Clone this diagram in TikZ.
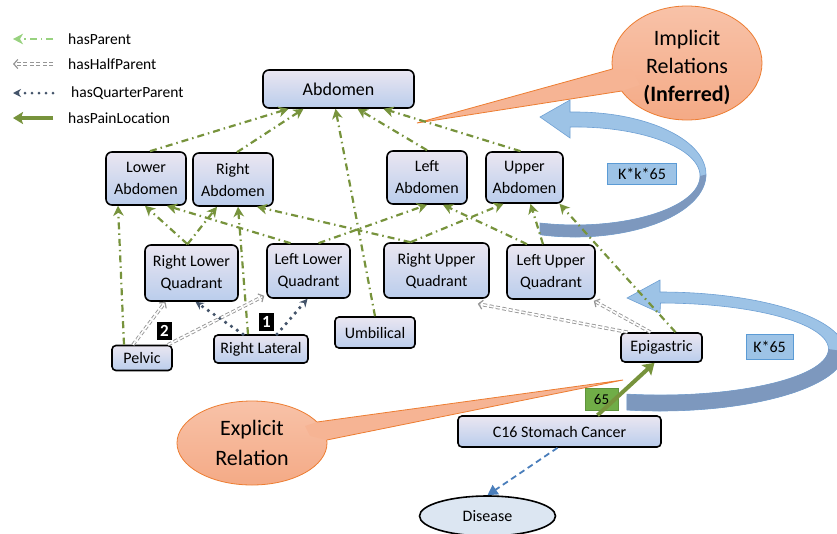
\documentclass[tikz,border=0pt]{standalone}
\usepackage{fontspec}
\setmainfont{Carlito}
\usetikzlibrary{arrows.meta,shapes.geometric,calc}

\definecolor{grn}{RGB}{119,147,60}
\definecolor{hgray}{RGB}{150,150,150}
\definecolor{qblue}{RGB}{68,84,106}
\definecolor{ntop}{RGB}{234,230,241}
\definecolor{nbot}{RGB}{186,205,236}
\definecolor{orfill}{RGB}{244,170,134}
\definecolor{ortop}{RGB}{248,194,168}
\definecolor{orline}{RGB}{237,125,49}
\definecolor{blight}{RGB}{157,195,230}
\definecolor{bline}{RGB}{110,160,212}
\definecolor{bdark}{RGB}{125,152,190}
\definecolor{dblue}{RGB}{74,126,187}
\definecolor{disfill}{RGB}{220,230,242}
\definecolor{kfill}{RGB}{157,195,230}
\definecolor{kline}{RGB}{91,155,213}
\definecolor{gbox}{RGB}{112,173,71}

\tikzset{
  box/.style={draw=black, line width=1.6pt, rounded corners=6pt, top color=ntop, bottom color=nbot,
    align=center, inner sep=0pt, font=\fontsize{16}{22}\selectfont},
  parent/.style={draw=grn, line width=2.2pt, dash pattern=on 7pt off 4pt on 1.5pt off 4pt,
    -{Stealth[length=10pt,width=10.5pt,inset=3pt]}},
  halfp/.style={draw=hgray, line width=0.9pt, double=white, double distance=1.6pt,
    dash pattern=on 4pt off 2.5pt, -{Straight Barb[length=4pt,width=9pt,line width=1.2pt]}},
  quarterp/.style={draw=qblue, line width=3.6pt, dash pattern=on 0pt off 7pt, line cap=round,
    -{Stealth[length=8pt,width=8pt]}},
  painloc/.style={draw=grn, line width=4pt, -{Stealth[length=11pt,width=14pt,inset=2pt]}},
  disarrow/.style={draw=dblue, line width=1.8pt, dash pattern=on 6pt off 4pt, -{Triangle[length=10pt,width=11pt]}},
  legtext/.style={anchor=west, font=\fontsize{15.5}{18}\selectfont, inner sep=0pt},
  kbox/.style={draw=kline, line width=0.8pt, fill=kfill, font=\fontsize{16}{19}\selectfont, inner sep=0pt},
  numbox/.style={fill=black, text=white, font=\bfseries\fontsize{17}{18}\selectfont, inner sep=0pt,
    minimum width=15pt, minimum height=18pt},
  callout/.style={draw=orline, line width=0.8pt, top color=ortop, bottom color=orfill},
  calltext/.style={align=center, font=\fontsize{22}{28}\selectfont, inner sep=0pt},
}

\begin{document}
\begin{tikzpicture}[x=1pt,y=1pt]
\useasboundingbox (0,0) rectangle (837,-533);
\fill[white] (0,0) rectangle (837,-533);

% ---------- callouts ----------
\path[callout] (687,-63) ellipse[x radius=75, y radius=57];
\fill[orfill!60!ortop] (612.4,-69) -- (417,-123) -- (621.7,-91) -- (640,-85) -- (632,-70) -- cycle;
\draw[orline, line width=0.8pt] (612.4,-69) -- (417,-123) -- (621.7,-91);
\node[calltext] (impl) at (687,-68) {Implicit\\Relations\\\textbf{(Inferred)}};

\path[callout] (252,-443) ellipse[x radius=75, y radius=42];
\fill[orfill!60!ortop] (317,-422) -- (623,-380) -- (326.8,-440) -- (310,-436) -- (305,-426) -- cycle;
\draw[orline, line width=0.8pt] (317,-422) -- (623,-380) -- (326.8,-440);
\node[calltext, font=\fontsize{22}{30}\selectfont] (expl) at (252,-443) {Explicit\\Relation};

% ---------- blue curved arrows ----------
\filldraw[fill=blight, draw=bline, line width=0.6pt] (540,-117) -- (570,-100) -- (570,-112.05)
  arc[start angle=92.2, end angle=-105.5, x radius=131, y radius=62.5] -- (540,-223)
  arc[start angle=-106.3, end angle=92.3, x radius=125, y radius=49] -- (570,-138) -- cycle;
\fill[bdark] (706,-174.5) arc[start angle=0, end angle=-105.5, x radius=131, y radius=62.5] -- (540,-223)
  arc[start angle=-106.3, end angle=0, x radius=125, y radius=49] -- cycle;

\filldraw[fill=blight, draw=bline, line width=0.6pt] (627,-298) -- (660,-280) -- (660,-292)
  arc[start angle=90, end angle=-100.3, x radius=185, y radius=59.5] -- (627,-394.1)
  arc[start angle=-101.5, end angle=90, x radius=168, y radius=46] -- (660,-313) -- cycle;
\fill[bdark] (845,-351.5) arc[start angle=0, end angle=-100.3, x radius=185, y radius=59.5] -- (627,-394.1)
  arc[start angle=-101.5, end angle=0, x radius=168, y radius=46] -- cycle;

\node[kbox, minimum width=69pt, minimum height=21pt] (kk) at (642,-173.5) {K*k*65};
\node[kbox, minimum width=47pt, minimum height=25pt] (k1) at (769.5,-346.5) {K*65};

% ---------- legend ----------
\coordinate (l1a) at (53,-39);  \coordinate (l1b) at (13,-39);
\coordinate (l2a) at (53,-64);  \coordinate (l2b) at (13,-64);
\coordinate (l3a) at (53,-93);  \coordinate (l3b) at (13,-93);
\coordinate (l4a) at (53,-118); \coordinate (l4b) at (13,-118);
\draw[parent, draw=grn!70!green!60!white] (l1a) -- (l1b);
\draw[halfp] (l2a) -- (l2b);
\draw[quarterp, line width=3pt] (l3a) -- (l3b);
\draw[painloc, -{Stealth[length=10pt,width=12pt,inset=2pt]}] (l4a) -- (l4b);
\node[legtext] (t1) at (68,-39) {hasParent};
\node[legtext] (t2) at (68,-64) {hasHalfParent};
\node[legtext] (t3) at (71,-93) {hasQuarterParent};
\node[legtext] (t4) at (68,-118) {hasPainLocation};

% ---------- nodes ----------
\node[box, minimum width=151pt, minimum height=38pt, font=\fontsize{18}{22}\selectfont] (abd) at (338.5,-89) {Abdomen};
\node[box, minimum width=80pt, minimum height=53pt] (la) at (146,-178.5) {Lower\\Abdomen};
\node[box, minimum width=80pt, minimum height=53pt] (ra) at (233,-179.5) {Right\\Abdomen};
\node[box, minimum width=80pt, minimum height=53pt] (lfa) at (427,-177.5) {Left\\Abdomen};
\node[box, minimum width=77pt, minimum height=51pt] (ua) at (524.5,-177.5) {Upper\\Abdomen};
\node[box, minimum width=93pt, minimum height=56pt] (rlq) at (191.5,-273) {Right Lower\\Quadrant};
\node[box, minimum width=83pt, minimum height=54pt] (llq) at (308.5,-271) {Left Lower\\Quadrant};
\node[box, minimum width=105pt, minimum height=55pt] (ruq) at (436.5,-270.5) {Right Upper\\Quadrant};
\node[box, minimum width=88pt, minimum height=54pt] (luq) at (551,-272) {Left Upper\\Quadrant};
\node[box, minimum width=80pt, minimum height=31pt, rounded corners=4pt] (umb) at (375,-332.5) {Umbilical};
\node[box, minimum width=60pt, minimum height=25pt, rounded corners=4pt] (pel) at (142,-358) {Pelvic};
\node[box, minimum width=94pt, minimum height=28pt, rounded corners=4pt] (rlat) at (261,-349) {Right Lateral};
\node[box, minimum width=81pt, minimum height=29pt, rounded corners=4pt] (epi) at (661.5,-347.5) {Epigastric};
\node[box, minimum width=203pt, minimum height=31pt, rounded corners=4pt] (c16) at (559.5,-431.5) {C16 Stomach Cancer};
\node[ellipse, draw=black, line width=1.6pt, fill=disfill, minimum width=136pt, minimum height=40pt,
  inner sep=0pt, font=\fontsize{16}{19}\selectfont] (dis) at (487.5,-516) {Disease};

% ---------- hasParent ----------
\draw[parent] ([xshift=4pt]la.north) -- ([xshift=-50pt]abd.south);
\draw[parent] ([xshift=4pt]ra.north) -- ([xshift=-35pt]abd.south);
\draw[parent] (umb.north) -- ([xshift=-3pt]abd.south);
\draw[parent] (lfa.north) -- ([xshift=19pt]abd.south);
\draw[parent] ([xshift=-4pt]ua.north) -- ([xshift=45pt]abd.south);

\draw[parent] ([xshift=-18pt]pel.north) -- ([xshift=-28pt]la.south);
\draw[parent] ([xshift=-4pt]rlq.north) -- ([xshift=-1pt]la.south);
\draw[parent] ([xshift=-18pt]llq.north) -- ([xshift=21pt]la.south);

\draw[parent] ([xshift=-4pt]rlq.north) -- ([xshift=-16pt]ra.south);
\draw[parent] ([xshift=-13pt]rlat.north) -- ([xshift=5pt]ra.south);
\draw[parent] ([xshift=-26pt]ruq.north) -- ([xshift=24pt]ra.south);

\draw[parent] ([xshift=10pt]llq.north) -- (lfa.south);
\draw[parent] ([xshift=-24pt]luq.north) -- ([xshift=16pt]lfa.south);

\draw[parent] ([xshift=-26pt]ruq.north) -- ([xshift=-21pt]ua.south);
\draw[parent] ([xshift=-8pt]luq.north) -- ([xshift=6pt]ua.south);
\draw[parent] ([xshift=14pt]epi.north) -- ([xshift=35pt]ua.south);

% ---------- hasHalfParent ----------
\draw[halfp] ([xshift=-9pt]pel.north) -- ([xshift=-26pt]rlq.south);
\draw[halfp] ([xshift=26pt]pel.north) -- ([shift={(-2pt,3pt)}]llq.south west);
\draw[halfp] ([xshift=-34pt]epi.north) -- ([shift={(-12pt,-5pt)}]ruq.south east);
\draw[halfp] ([xshift=-11pt]epi.north) -- ([shift={(-2pt,-1pt)}]luq.south east);

% ---------- hasQuarterParent ----------
\draw[quarterp] ([xshift=-18pt]rlat.north) -- ([xshift=4pt]rlq.south);
\draw[quarterp] ([xshift=16pt]rlat.north) -- ([xshift=-1pt]llq.south);

\node[numbox] (n2) at (164.5,-330.5) {2};
\node[numbox] (n1) at (266.5,-321.5) {1};

% ---------- hasPainLocation ----------
\node[fill=gbox, draw=gbox!85!black, line width=0.5pt, minimum width=33pt, minimum height=22pt,
  inner sep=0pt, font=\fontsize{15}{18}\selectfont] (w65) at (601.5,-399) {65};
\draw[painloc] ([xshift=38pt]c16.north) -- ([xshift=-7pt]epi.south);

% ---------- Disease ----------
\draw[disarrow] ([xshift=-2pt]c16.south) -- (dis.north);
\end{tikzpicture}
\end{document}
